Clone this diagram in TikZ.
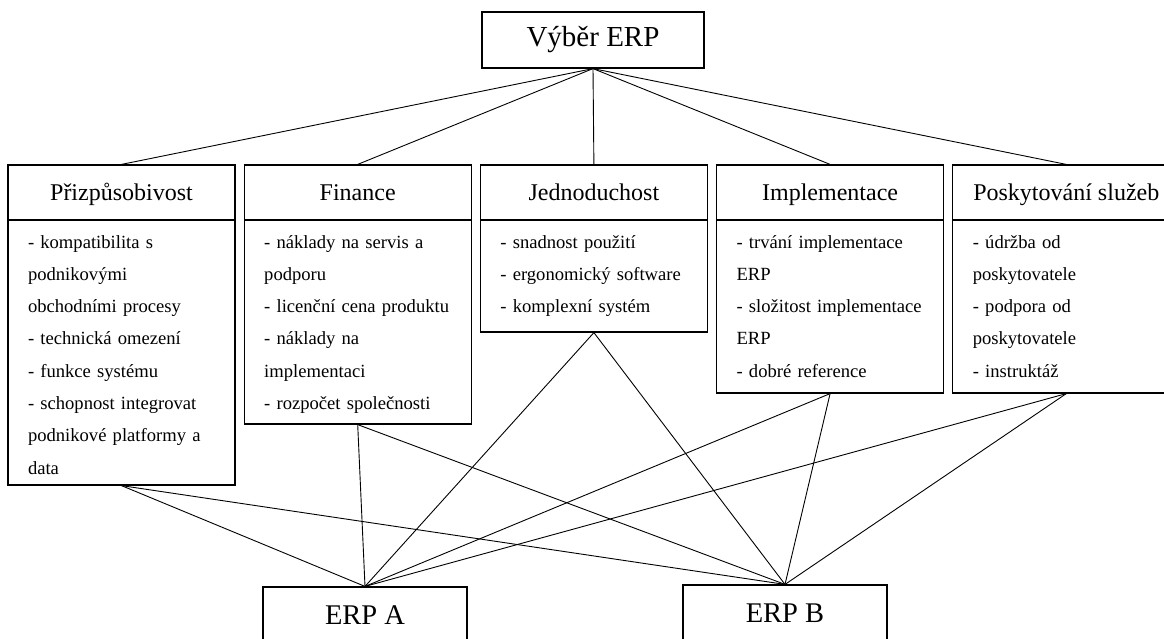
\documentclass[tikz,border=0pt]{standalone}
\usepackage{fontspec}
\setmainfont{Liberation Serif}
\usetikzlibrary{positioning}

\begin{document}
\begin{tikzpicture}[x=1pt,y=-1pt,
        box/.style={draw,line width=1.2pt,inner sep=0pt},
        head/.style={box,minimum width=227pt,minimum height=55pt,text height=17pt,text depth=2pt,font=\fontsize{24}{28}\selectfont},
        body/.style={box,text width=187pt,inner xsep=20pt,inner ysep=14pt,text height=14pt,align=left,font=\fontsize{18.6}{32.3}\selectfont},
        alt/.style={box,minimum width=204pt,minimum height=56pt,font=\fontsize{28.5}{32}\selectfont},
        link/.style={line width=0.9pt}]
    \useasboundingbox (0,0) rectangle (1164,638);

    \node[box,minimum width=222pt,minimum height=56pt,font=\fontsize{29}{34}\selectfont] (sel) at (593,40) {Výběr ERP};

    \node[head]                 (pri) at (121.5,192.5) {Přizpůsobivost};
    \node[head, right=8pt of pri] (fin) {Finance};
    \node[head, right=8pt of fin] (jed) {Jednoduchost};
    \node[head, right=8pt of jed] (imp) {Implementace};
    \node[head, right=8pt of imp] (pos) {Poskytování služeb};

    \node[body, text depth=223pt, below=-1.2pt of pri] (pri_b)
        {- kompatibilita s\\ podnikovými\\ obchodními procesy\\ - technická omezení\\ - funkce systému\\ - schopnost integrovat\\ podnikové platformy a\\ data};
    \node[body, text depth=162pt, below=-1.2pt of fin] (fin_b)
        {- náklady na servis a\\ podporu\\ - licenční cena produktu\\ - náklady na\\ implementaci\\ - rozpočet společnosti};
    \node[body, text depth=70pt, below=-1.2pt of jed] (jed_b)
        {- snadnost použití\\ - ergonomický software\\ - komplexní systém};
    \node[body, text depth=131pt, below=-1.2pt of imp] (imp_b)
        {- trvání implementace\\ ERP\\ - složitost implementace\\ ERP\\ - dobré reference};
    \node[body, text depth=131pt, below=-1.2pt of pos] (pos_b)
        {- údržba od\\ poskytovatele\\ - podpora od\\ poskytovatele\\ - instruktáž};

    \node[alt] (erp_a) at (365,615) {ERP A};
    \node[alt] (erp_b) at (785,613) {ERP B};

    \path[link]
    (sel.south) edge (pri.north)
                edge (fin.north)
                edge (jed.north)
                edge (imp.north)
                edge (pos.north)
    (pri_b.south) edge (erp_a.north)
                  edge (erp_b.north)
    (fin_b.south) edge (erp_a.north)
                  edge (erp_b.north)
    (jed_b.south) edge (erp_a.north)
                  edge (erp_b.north)
    (imp_b.south) edge (erp_a.north)
                  edge (erp_b.north)
    (pos_b.south) edge (erp_a.north)
                  edge (erp_b.north)
    ;
\end{tikzpicture}
\end{document}
